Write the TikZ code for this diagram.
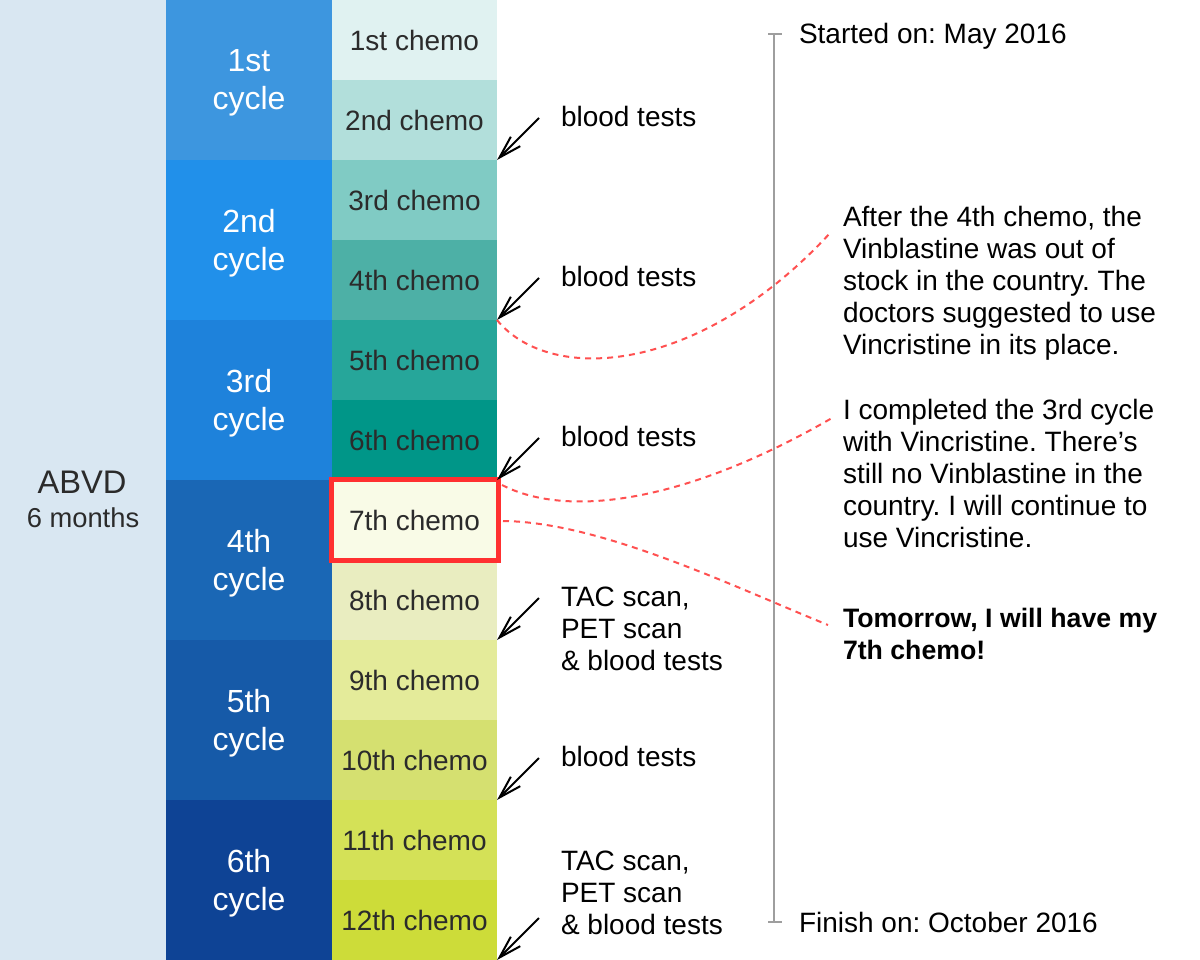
\documentclass[tikz,border=0pt]{standalone}
\usepackage{fontspec}
\setmainfont{Liberation Sans}
\usetikzlibrary{arrows.meta}
\frenchspacing
\definecolor{panelbg}{HTML}{D9E7F2}
\definecolor{cyA}{HTML}{3D96DF}
\definecolor{cyB}{HTML}{2190EA}
\definecolor{cyC}{HTML}{1E82DB}
\definecolor{cyD}{HTML}{1A67B5}
\definecolor{cyE}{HTML}{165AA8}
\definecolor{cyF}{HTML}{0E4395}
\definecolor{chA}{HTML}{E0F2F1}
\definecolor{chB}{HTML}{B2DFDB}
\definecolor{chC}{HTML}{80CBC4}
\definecolor{chD}{HTML}{4DB0A6}
\definecolor{chE}{HTML}{26A69A}
\definecolor{chF}{HTML}{009688}
\definecolor{chG}{HTML}{F9FBE7}
\definecolor{chH}{HTML}{E9EDC0}
\definecolor{chI}{HTML}{E4EB9A}
\definecolor{chJ}{HTML}{D5E070}
\definecolor{chK}{HTML}{D4E157}
\definecolor{chL}{HTML}{CDDC39}
\definecolor{darktext}{HTML}{2B2B2B}
\definecolor{hlred}{HTML}{FF3030}
\definecolor{dashred}{HTML}{FF5050}
\definecolor{tlgray}{HTML}{9E9E9E}
\begin{document}
\frenchspacing
\begin{tikzpicture}[x=0.75pt,y=-0.75pt,
  cyc/.style={fill=#1, minimum width=124.5pt, minimum height=120pt,
    inner sep=0pt, outer sep=0pt},
  cyctext/.style={text=white, inner sep=0pt, align=center, font=\fontsize{24}{28.5}\selectfont},
  chm/.style={fill=#1, text=darktext, minimum width=123.75pt, minimum height=60pt,
    inner sep=0pt, outer sep=0pt, font=\fontsize{21}{24}\selectfont},
  lbl/.style={inner sep=0pt, outer sep=0pt, text=black, align=left, font=\fontsize{21}{24}\selectfont},
  arr/.style={draw=black, line width=1.5pt, -{Straight Barb[length=17pt,width=10pt]}},
  dsh/.style={draw=dashred, line width=1.5pt, dash pattern=on 4.5pt off 3.75pt},
  tl/.style={draw=tlgray, line width=1.5pt}]
\useasboundingbox (0,0) rectangle (1200,960);
\fill[white] (0,0) rectangle (1200,960);
% left panel
\node[fill=panelbg, minimum width=124.5pt, minimum height=720pt, inner sep=0pt, outer sep=0pt] (panel) at (83,480) {};
\node[anchor=base, inner sep=0pt, text=darktext, font=\fontsize{24.5}{28}\selectfont] (abvd) at (82,493) {ABVD};
\node[anchor=base, inner sep=0pt, text=darktext, font=\fontsize{20.5}{24}\selectfont] (months) at (83,527) {6 months};
% cycles
\node[cyc=cyA] (cy1) at (249,80) {};
\node[cyc=cyB] (cy2) at (249,240) {};
\node[cyc=cyC] (cy3) at (249,400) {};
\node[cyc=cyD] (cy4) at (249,560) {};
\node[cyc=cyE] (cy5) at (249,720) {};
\node[cyc=cyF] (cy6) at (249,880) {};
\node[cyctext] (t1) at (249,83) {1st\\cycle};
\node[cyctext] (t2) at (249,243) {2nd\\cycle};
\node[cyctext] (t3) at (249,403) {3rd\\cycle};
\node[cyctext] (t4) at (249,563) {4th\\cycle};
\node[cyctext] (t5) at (249,723) {5th\\cycle};
\node[cyctext] (t6) at (249,883) {6th\\cycle};
% chemos
\node[chm=chA] (c1) at (414.5,40) {1st chemo};
\node[chm=chB] (c2) at (414.5,120) {2nd chemo};
\node[chm=chC] (c3) at (414.5,200) {3rd chemo};
\node[chm=chD] (c4) at (414.5,280) {4th chemo};
\node[chm=chE] (c5) at (414.5,360) {5th chemo};
\node[chm=chF] (c6) at (414.5,440) {6th chemo};
\node[chm=chG] (c7) at (414.5,520) {7th chemo};
\node[chm=chH] (c8) at (414.5,600) {8th chemo};
\node[chm=chI] (c9) at (414.5,680) {9th chemo};
\node[chm=chJ] (c10) at (414.5,760) {10th chemo};
\node[chm=chK] (c11) at (414.5,840) {11th chemo};
\node[chm=chL] (c12) at (414.5,920) {12th chemo};
% highlight
\node[draw=hlred, line width=3.75pt, minimum width=125.25pt, minimum height=60.75pt, inner sep=0pt, outer sep=0pt] (hl) at (415,520) {};
% right labels
\node[lbl, anchor=base west] (bt1) at (561,126) {blood tests};
\node[lbl, anchor=base west] (bt2) at (561,286) {blood tests};
\node[lbl, anchor=base west] (bt3) at (561,446) {blood tests};
\node[lbl, anchor=west] (tac1) at (561,629) {TAC scan,\\PET scan\\\& blood tests};
\node[lbl, anchor=base west] (bt4) at (561,766) {blood tests};
\node[lbl, anchor=west] (tac2) at (561,893) {TAC scan,\\PET scan\\\& blood tests};
% arrows
\coordinate (a1) at (539,118);
\coordinate (a2) at (539,278);
\coordinate (a3) at (539,438);
\coordinate (a4) at (539,598);
\coordinate (a5) at (539,758);
\coordinate (a6) at (539,918);
\draw[arr] (a1) -- (c2.south east);
\draw[arr] (a2) -- (c4.south east);
\draw[arr] (a3) -- (c6.south east);
\draw[arr] (a4) -- (c8.south east);
\draw[arr] (a5) -- (c10.south east);
\draw[arr] (a6) -- (c12.south east);
% timeline
\coordinate (tt) at (774,34);
\coordinate (tb) at (774,922);
\coordinate (ttl) at (768,34);
\coordinate (ttr) at (782,34);
\coordinate (tbl) at (768,922);
\coordinate (tbr) at (782,922);
\draw[tl] (tt) -- (tb);
\draw[tl] (ttl) -- (ttr);
\draw[tl] (tbl) -- (tbr);
\node[lbl, anchor=base west] (start) at (799,43) {Started on: May 2016};
\node[lbl, anchor=base west] (finish) at (799,932) {Finish on: October 2016};
% annotations
\node[lbl, anchor=west] (n1) at (843,283) {After the 4th chemo, the\\Vinblastine was out of\\stock in the country. The\\doctors suggested to use\\Vincristine in its place.};
\node[lbl, anchor=west] (n2) at (843,473) {I completed the 3rd cycle\\with Vincristine. There's\\still no Vinblastine in the\\country. I will continue to\\use Vincristine.};
\node[lbl, anchor=west, font=\fontsize{20}{24}\selectfont\bfseries] (n3) at (843,634) {Tomorrow, I will have my\\7th chemo!};
% dashed connectors
\coordinate (d1e) at (831,232);
\coordinate (d2s) at (502,485);
\coordinate (d2e) at (832,418);
\coordinate (d3s) at (503,521);
\coordinate (d3e) at (828,625);
\draw[dsh] (c4.south east) .. controls (550,385) and (700,375) .. (d1e);
\draw[dsh] (d2s) .. controls (570,520) and (690,500) .. (d2e);
\draw[dsh] (d3s) .. controls (600,522) and (730,585) .. (d3e);
\end{tikzpicture}
\end{document}
